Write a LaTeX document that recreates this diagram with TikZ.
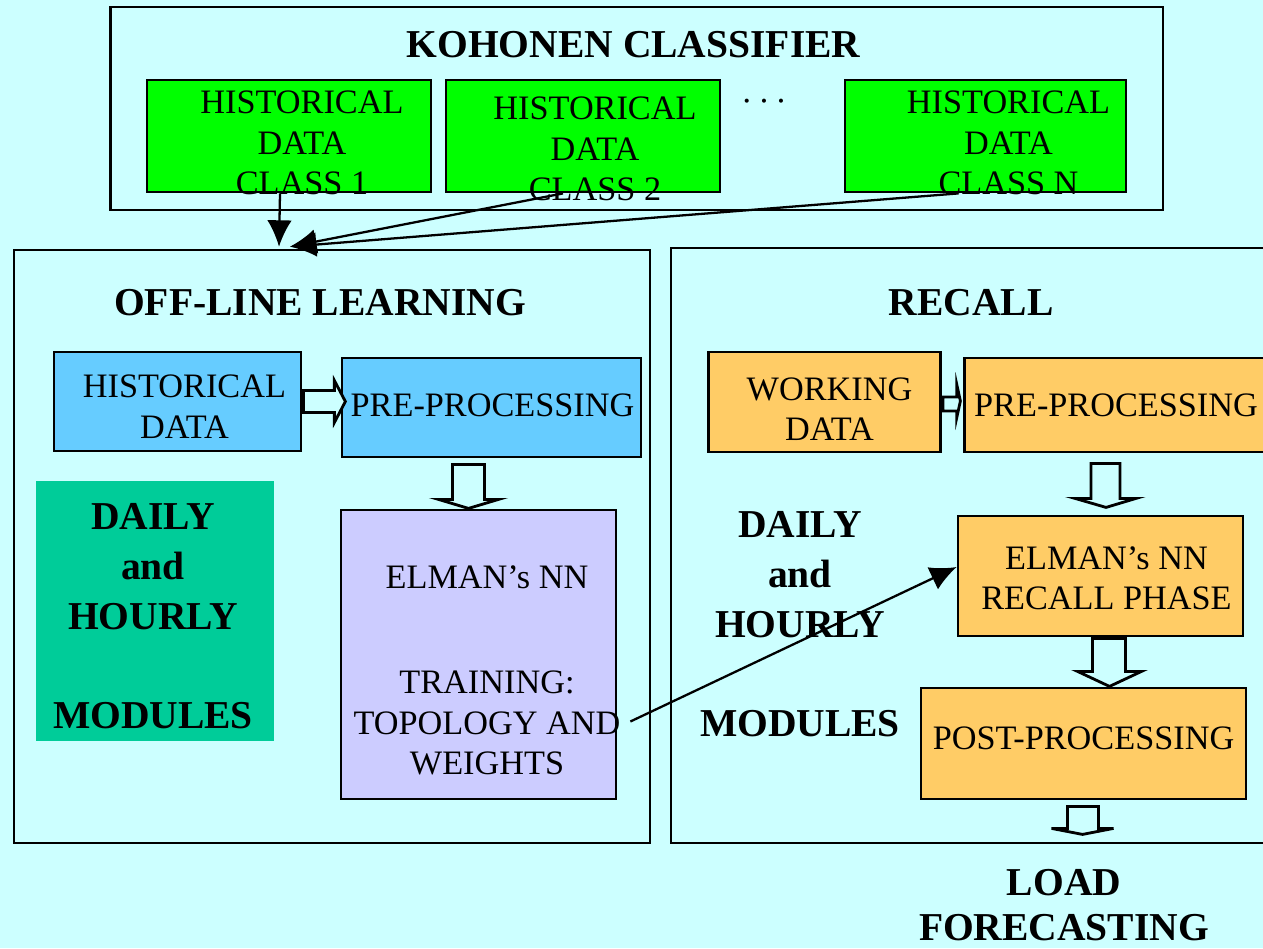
\documentclass[tikz,border=0pt]{standalone}
\usepackage{fontspec}
\setmainfont{Liberation Serif}
\usetikzlibrary{arrows.meta,calc,positioning}

\definecolor{bgcyan}{HTML}{CCFFFF}
\definecolor{kgreen}{HTML}{00FF00}
\definecolor{lblue}{HTML}{66CCFF}
\definecolor{lilac}{HTML}{CCCCFF}
\definecolor{teal}{HTML}{00CC99}
\definecolor{amber}{HTML}{FFCC66}

\tikzset{
  box/.style={draw,line width=1.6pt,inner sep=0pt},
  txt/.style={font=\fontsize{19.5}{23}\selectfont,align=center,inner sep=0pt},
  head/.style={font=\fontsize{22.5}{28.5}\selectfont\bfseries,align=center,inner sep=0pt},
  link/.style={line width=1.3pt,-{Latex[length=15pt,width=14pt]}},
  hollow/.style={draw,line width=1.6pt,fill=bgcyan,line join=miter}
}

\begin{document}
\begin{tikzpicture}[x=0.02cm,y=-0.02cm]
\useasboundingbox (0,0) rectangle (1263,948);
\fill[bgcyan] (0,0) rectangle (1263,948);
\clip (0,0) rectangle (1263,948);

% classifier on top
\node[box,minimum width=21.06cm,minimum height=4.06cm] (kohonen) at (636.5,108.5) {};
\node[head] (kohtitle) at (633.5,45) {KOHONEN CLASSIFIER};
\node[box,fill=kgreen,minimum width=5.68cm,minimum height=2.24cm] (hist1) at (289,136) {};
\node[box,fill=kgreen,minimum width=5.48cm,minimum height=2.24cm] (hist2) at (583,136) {};
\node[box,fill=kgreen,minimum width=5.62cm,minimum height=2.24cm] (histN) at (985.5,136) {};
\node[txt] (hist1txt) at ($(hist1)+(13,7)$) {HISTORICAL\\DATA\\CLASS 1};
\node[txt] (hist2txt) at ($(hist2)+(12,13)$) {HISTORICAL\\DATA\\CLASS 2};
\node[txt] (histNtxt) at ($(histN)+(23,7)$) {HISTORICAL\\DATA\\CLASS N};
\node[txt] (dots) at (764,106) {·\,·\,·};

% off-line learning
\node[box,minimum width=12.72cm,minimum height=11.86cm] (offline) at (332,546.5) {};
\node[head] (offtitle) at (320,303) {OFF-LINE LEARNING};
\node[box,fill=lblue,minimum width=4.94cm,minimum height=1.98cm] (histdata) at (177.5,401.5) {};
\node[txt] (histdatatxt) at ($(histdata)+(7,5)$) {HISTORICAL\\DATA};
\node[box,fill=lblue,minimum width=5.98cm,minimum height=1.98cm] (pre) at (491.5,407.5) {};
\node[txt] (pretxt) at ($(pre)+(1,-2)$) {PRE-PROCESSING};
\node[box,fill=lilac,minimum width=5.5cm,minimum height=5.78cm] (elman) at (478.5,654.5) {};
\node[txt] (elmantxt) at (487,670.5) {ELMAN's NN\\[37pt]TRAINING:\\TOPOLOGY AND\\WEIGHTS};
\node[fill=teal,minimum width=4.76cm,minimum height=5.2cm] (modules) at (155,611) {};
\node[head] (modulestxt) at ($(modules)+(-2,5)$) {DAILY\\and\\HOURLY\\[28pt]MODULES};

% recall
\node[box,minimum width=12.08cm,minimum height=11.9cm] (recall) at (973,545.5) {};
\node[head] (rectitle) at (971,303) {RECALL};
\node[box,fill=amber,minimum width=4.64cm,minimum height=2cm] (working) at (824.5,402) {};
\node[txt] (workingtxt) at ($(working)+(5,7)$) {WORKING\\DATA};
\node[box,fill=amber,minimum width=6.22cm,minimum height=1.88cm] (pre2) at (1120,405) {};
\node[txt] (pre2txt) at ($(pre2)+(-4,0)$) {PRE-PROCESSING};
\node[box,fill=amber,minimum width=5.7cm,minimum height=2.4cm] (elmanR) at (1100.5,576) {};
\node[txt] (elmanRtxt) at ($(elmanR)+(6,2)$) {ELMAN's NN\\RECALL PHASE};
\node[box,fill=amber,minimum width=6.5cm,minimum height=2.22cm] (post) at (1083.5,743.5) {};
\node[txt] (posttxt) at ($(post)+(0,-5)$) {POST-PROCESSING};
\node[head] (modulesR) at (800,624) {DAILY\\and\\HOURLY\\[28pt]MODULES};
\node[head,font=\fontsize{22.5}{26}\selectfont\bfseries] (load) at (1064,905) {LOAD\\FORECASTING};

% classes feed the learning stage
\coordinate (inlet) at ($(offline.north)+(-50,-2)$);
\draw[link] ($(hist1.south)+(-9,0)$) -- ($(inlet)+(-3,0)$);
\draw[link] ($(hist2.south)+(-20,0)$) -- ($(inlet)+(8,0)$);
\draw[link] ($(histN.south)+(-27,0)$) -- ($(inlet)+(8,0)$);

% trained network goes to recall
\draw[link] ($(elman.east)+(13,67)$) -- ($(elmanR.west)+(0,-9)$);

% hollow block arrows
\draw[hollow] ($(histdata.east)+(1,-11)$) -- ++(31,0) -- ++(0,-10) -- ++(11,21)
  -- ++(-11,21) -- ++(0,-10) -- ++(-31,0) -- cycle;
\draw[hollow] ($(working.east)+(1,-5)$) -- ++(14,0) -- ++(0,-12) -- ++(3.5,16)
  -- ++(-3.5,16) -- ++(0,-6) -- ++(-14,0) -- cycle;
\draw[hollow] ($(pre.south)+(-39,6)$) -- ++(32,0) -- ++(0,35) -- ++(14,0)
  -- ++(-30,9) -- ++(-30,-9) -- ++(14,0) -- cycle;
\draw[hollow] ($(pre2.south)+(-29,10)$) -- ++(29,0) -- ++(0,35) -- ++(16,0)
  -- ++(-30,9) -- ++(-31,-9) -- ++(16,0) -- cycle;
\draw[hollow] ($(elmanR.south)+(-8,1)$) -- ++(33,0) -- ++(0,33) -- ++(16,0)
  -- ++(-32,15) -- ++(-32,-15) -- ++(15,0) -- cycle;
\draw[hollow] ($(post.south)+(-16,6)$) -- ++(31,0) -- ++(0,22) -- ++(15,0)
  -- ++(-31,6) -- ++(-31,-6) -- ++(16,0) -- cycle;
\end{tikzpicture}
\end{document}
